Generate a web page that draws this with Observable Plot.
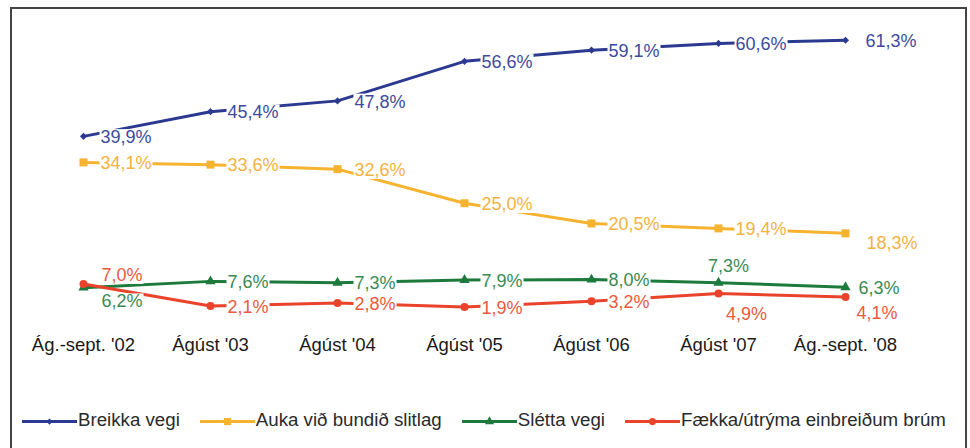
<!DOCTYPE html>
<html><head><meta charset="utf-8">
<script src="https://cdn.jsdelivr.net/npm/d3@7"></script>
<script src="https://cdn.jsdelivr.net/npm/@observablehq/plot@0.6"></script>
<style>
html,body{margin:0;padding:0;background:#fff;overflow:hidden;width:970px;height:448px;}
#wrap{position:relative;width:970px;height:448px;}
#chart{position:absolute;left:0;top:0;}
#legend{position:absolute;left:22px;top:406px;display:flex;font-family:"Liberation Sans",Arial,sans-serif;font-size:18.7px;line-height:28px;color:#2a2a2a;white-space:nowrap;}
.item{display:flex;align-items:flex-start;margin-right:20px;}
.item svg{display:block;margin-right:1px;}
#frame{position:absolute;left:10px;top:7px;width:953px;height:480px;border:2px solid #444;pointer-events:none;}
</style></head>
<body><div id="wrap"><div id="chart"></div><div id="legend"></div><div id="frame"></div></div>
<script>
const categories = ["Ág.-sept. '02","Ágúst '03","Ágúst '04","Ágúst '05","Ágúst '06","Ágúst '07","Ág.-sept. '08"];
const seriesNames = ["Breikka vegi","Auka við bundið slitlag","Slétta vegi","Fækka/útrýma einbreiðum brúm"];
const breikkaVegi = [39.9,45.4,47.8,56.6,59.1,60.6,61.3];
const aukaSlitlag = [34.1,33.6,32.6,25.0,20.5,19.4,18.3];
const slettaVegi = [6.2,7.6,7.3,7.9,8.0,7.3,6.3];
const faekkaBrum = [7.0,2.1,2.8,1.9,3.2,4.9,4.1];

const seriesValues = [breikkaVegi, aukaSlitlag, slettaVegi, faekkaBrum];
const lineColors = ["#2b3990","#f6b330","#1d7a3c","#e9432b"];
const labelColors = ["#3d4b9e","#f3b241","#3a8b52","#ec5a3e"];
const symbols = ["diamond2","square","triangle","circle"];
const dotR = [3.2,4.5,3.8,4];

// label nudges (pixel offsets relative to the point), keyed "series-index"
const nudges = {
  "0-6":{dx:20}, "1-6":{dx:21,dy:9},
  "2-0":{dx:18,dy:13}, "2-5":{dx:10,dy:-17,anchor:"middle"}, "2-6":{dx:13},
  "3-0":{dx:18,dy:-10}, "3-5":{dx:28,dy:20,anchor:"middle"}, "3-6":{dx:11,dy:15}
};

const rows = [];
seriesValues.forEach((vals, s) => vals.forEach((v, i) => {
  const n = nudges[`${s}-${i}`] || {};
  rows.push({s, i, cat: categories[i], value: v,
    label: v.toFixed(1).replace(".", ",") + "%",
    dx: n.dx ?? 17, dy: (n.dy ?? 0) + 1, anchor: n.anchor ?? "start"});
}));

const font = '"Liberation Sans", Arial, sans-serif';
const marks = [];
seriesValues.forEach((_, s) => {
  marks.push(Plot.line(rows.filter(d => d.s === s), {x: "cat", y: "value", stroke: lineColors[s], strokeWidth: 3}));
});
// value labels grouped by series and nudge
const groups = d3.groups(rows, d => `${d.s}|${d.dx}|${d.dy}|${d.anchor}`);
for (const [, g] of groups) {
  const d0 = g[0];
  marks.push(Plot.text(g, {x: "cat", y: "value", text: "label", dx: d0.dx, dy: d0.dy,
    textAnchor: d0.anchor, fill: labelColors[d0.s], fontSize: 18}));
}
seriesValues.forEach((_, s) => {
  marks.push(Plot.dot(rows.filter(d => d.s === s), {x: "cat", y: "value", symbol: () => symbols[s], r: dotR[s], fill: lineColors[s], stroke: "none"}));
});
marks.push(Plot.axisX({tickSize: 0, tickPadding: 22, fill: "#1a1a1a", label: null}));

const chart = Plot.plot({
  width: 970, height: 370,
  marginLeft: 80, marginRight: 123, marginTop: 23.15, marginBottom: 55,
  x: {type: "point", domain: categories, padding: 0, axis: null, label: null},
  y: {domain: [0, 65], axis: null},
  symbol: {type: "identity"},
  style: {fontFamily: font, fontSize: "18.5px", color: "#1a1a1a", background: "transparent", overflow: "visible"},
  marks
});
document.getElementById("chart").appendChild(chart);

// white boxes behind value labels (hide the lines behind the text, as in the original)
d3.select(chart).selectAll('g[aria-label="text"] text').each(function() {
  const b = this.getBBox();
  const r = document.createElementNS("http://www.w3.org/2000/svg", "rect");
  r.setAttribute("x", b.x - 1);
  r.setAttribute("y", b.y + 2);
  r.setAttribute("width", b.width + 2);
  r.setAttribute("height", Math.max(0, b.height - 3));
  r.setAttribute("fill", "white");
  const t = this.getAttribute("transform");
  if (t) r.setAttribute("transform", t);
  this.parentNode.insertBefore(r, this);
});

// legend
const legend = document.getElementById("legend");
const symMap = {diamond2: d3.symbolDiamond2, square: d3.symbolSquare, triangle: d3.symbolTriangle, circle: d3.symbolCircle};
seriesNames.forEach((name, s) => {
  const item = document.createElement("div");
  item.className = "item";
  const svg = d3.create("svg").attr("width", 55).attr("height", 28);
  svg.append("line").attr("x1", 0).attr("x2", 55).attr("y1", 15.6).attr("y2", 15.6)
    .attr("stroke", lineColors[s]).attr("stroke-width", 3);
  svg.append("path").attr("transform", "translate(27.5,15.6)")
    .attr("d", d3.symbol(symMap[symbols[s]], Math.PI * dotR[s] * dotR[s] * 0.8)())
    .attr("fill", lineColors[s]);
  item.appendChild(svg.node());
  const span = document.createElement("span");
  span.textContent = name;
  item.appendChild(span);
  legend.appendChild(item);
});
</script>
</body></html>
